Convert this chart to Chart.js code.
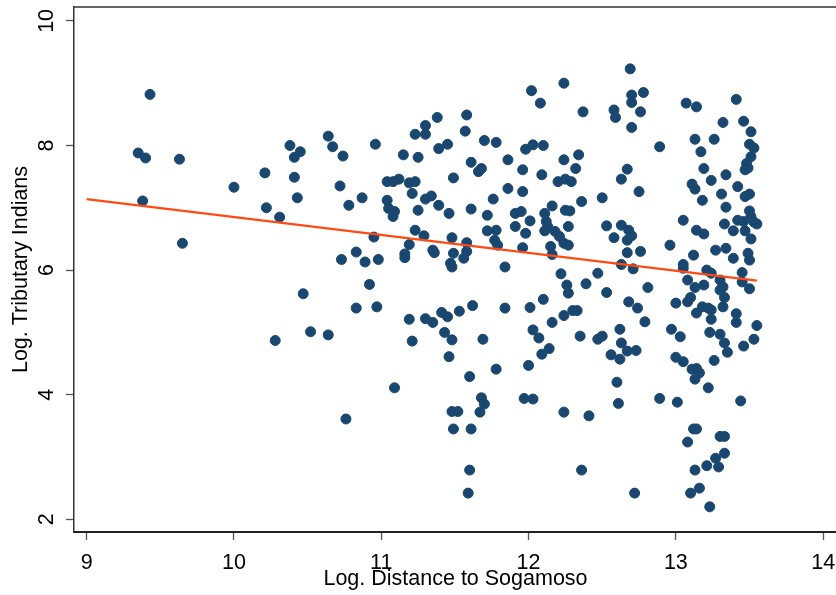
<!DOCTYPE html>
<html>
<head>
<meta charset="utf-8">
<script src="https://cdn.jsdelivr.net/npm/chart.js@4.4.0/dist/chart.umd.min.js"></script>
<style>
  html, body { margin: 0; padding: 0; background: #fff; overflow: hidden; }
  #wrap { width: 850px; height: 595px; }
</style>
</head>
<body>
<div id="wrap"><canvas id="scatter" width="850" height="595"></canvas></div>
<script>
// log distance to Sogamoso (x) and log tributary Indians (y), one entry per town
const logDistance = [
  9.35, 9.40, 9.43, 9.38, 9.63, 9.65, 10.00, 10.21, 10.22, 10.31,
  10.38, 10.41, 10.45, 10.41, 10.43, 10.47, 10.64, 10.67, 10.74, 10.72,
  10.78, 10.73, 10.83, 10.89, 10.92, 10.95, 10.87, 10.96, 10.98, 10.83,
  10.97, 10.28, 10.52, 10.64, 10.76, 11.04, 11.08, 11.12, 11.19, 11.23,
  11.21, 11.04, 11.05, 11.09, 11.08, 11.15, 11.23, 11.30, 11.25, 11.25,
  11.23, 11.19, 11.16, 11.16, 11.29, 11.30, 11.34, 11.39, 11.46, 11.38,
  11.30, 11.39, 11.45, 11.35, 11.36, 11.48, 11.49, 11.58, 11.58, 11.56,
  11.49, 11.47, 11.48, 11.58, 11.57, 11.70, 11.78, 11.98, 12.03, 12.10,
  11.61, 11.66, 11.68, 11.86, 11.96, 12.09, 11.86, 11.96, 11.61, 11.76,
  11.72, 11.91, 11.95, 12.01, 12.16, 12.11, 12.12, 12.13, 12.11, 12.18,
  12.21, 12.24, 11.91, 11.98, 11.72, 11.78, 11.77, 11.79, 11.96, 11.84,
  12.15, 12.16, 12.02, 12.08, 11.19, 11.30, 11.35, 11.41, 11.45, 11.53,
  11.62, 11.84, 12.01, 12.10, 12.16, 11.21, 11.43, 11.48, 11.69, 12.03,
  12.07, 12.14, 12.09, 11.46, 12.00, 11.78, 11.60, 11.09, 11.97, 12.03,
  11.68, 11.70, 11.67, 11.48, 11.52, 11.49, 11.61, 11.60, 11.59, 12.24,
  12.69, 12.70, 12.78, 12.70, 12.76, 12.37, 12.58, 12.59, 12.70, 12.89,
  12.24, 12.32, 12.34, 12.20, 12.25, 12.29, 12.25, 12.28, 12.27, 12.27,
  12.22, 12.26, 12.27, 12.39, 12.53, 12.47, 12.36, 12.50, 12.67, 12.63,
  12.75, 12.53, 12.63, 12.68, 12.70, 12.67, 12.58, 12.67, 12.76, 12.63,
  12.71, 12.68, 12.74, 12.81, 12.24, 12.30, 12.33, 12.79, 12.62, 12.35,
  12.47, 12.50, 12.63, 12.67, 12.73, 12.56, 12.62, 12.60, 12.61, 12.24,
  12.41, 12.36, 12.72, 12.89, 13.07, 13.14, 13.41, 13.32, 13.46, 13.51,
  13.50, 13.53, 13.51, 13.48, 13.47, 13.49, 13.13, 13.26, 13.17, 13.19,
  13.34, 13.24, 13.11, 13.13, 13.42, 13.31, 13.47, 13.50, 13.18, 13.34,
  13.50, 13.51, 13.53, 13.55, 13.42, 13.46, 13.33, 13.39, 13.47, 13.51,
  13.05, 13.14, 13.19, 12.96, 13.27, 13.34, 13.39, 13.49, 13.50, 13.12,
  13.05, 13.05, 13.21, 13.24, 13.45, 13.45, 13.50, 13.30, 13.32, 13.30,
  13.33, 13.32, 13.08, 13.13, 13.19, 13.10, 13.08, 13.00, 13.18, 13.22,
  13.24, 13.14, 13.24, 13.41, 13.41, 13.55, 13.23, 13.30, 13.33, 13.35,
  13.46, 13.53, 12.97, 13.03, 13.00, 13.05, 13.11, 13.14, 13.16, 13.13,
  13.22, 13.26, 13.01, 13.44, 13.12, 13.14, 13.08, 13.30, 13.33, 13.33,
  13.27, 13.29, 13.21, 13.13, 13.16, 13.10, 13.23
];
const logTributaries = [
  7.88, 7.80, 8.82, 7.11, 7.78, 6.43, 7.33, 7.56, 7.00, 6.85,
  8.00, 7.81, 7.90, 7.49, 7.16, 5.62, 8.15, 7.98, 7.83, 7.35,
  7.04, 6.17, 6.29, 6.13, 5.77, 6.53, 7.16, 8.02, 6.17, 5.39,
  5.41, 4.87, 5.01, 4.96, 3.61, 7.42, 7.42, 7.46, 7.40, 7.42,
  7.23, 7.12, 6.99, 6.94, 6.86, 7.85, 8.18, 8.18, 7.81, 6.96,
  6.64, 6.41, 6.26, 6.20, 6.55, 7.14, 7.19, 7.04, 6.91, 8.45,
  8.32, 7.95, 8.02, 6.32, 6.28, 6.52, 7.48, 6.44, 6.30, 6.19,
  6.27, 6.11, 6.05, 8.49, 8.23, 8.08, 8.05, 7.94, 8.01, 8.00,
  7.73, 7.58, 7.63, 7.77, 7.61, 7.53, 7.31, 7.26, 6.98, 7.14,
  6.88, 6.91, 6.94, 6.79, 7.03, 6.91, 6.78, 6.70, 6.63, 6.62,
  6.54, 6.43, 6.70, 6.59, 6.63, 6.64, 6.48, 6.40, 6.36, 6.05,
  6.38, 6.25, 8.88, 8.68, 5.21, 5.22, 5.16, 5.32, 5.25, 5.34,
  5.43, 5.39, 5.40, 5.53, 5.16, 4.86, 5.00, 4.88, 4.89, 5.04,
  4.91, 4.74, 4.65, 4.61, 4.47, 4.41, 4.29, 4.11, 3.94, 3.93,
  3.95, 3.85, 3.72, 3.73, 3.73, 3.45, 3.45, 2.79, 2.42, 9.00,
  9.23, 8.81, 8.85, 8.69, 8.54, 8.54, 8.57, 8.45, 8.29, 7.98,
  7.77, 7.63, 7.85, 7.42, 7.46, 7.42, 6.96, 6.95, 6.70, 6.40,
  5.94, 5.76, 5.63, 5.78, 5.64, 5.95, 7.10, 7.16, 7.62, 7.46,
  7.26, 6.71, 6.72, 6.64, 6.55, 6.48, 6.52, 6.28, 6.30, 6.09,
  6.02, 5.49, 5.39, 5.72, 5.27, 5.35, 5.35, 5.17, 5.05, 4.94,
  4.89, 4.94, 4.83, 4.70, 4.71, 4.64, 4.57, 4.20, 3.86, 3.72,
  3.66, 2.79, 2.42, 3.94, 8.68, 8.62, 8.74, 8.37, 8.39, 8.22,
  8.02, 7.96, 7.82, 7.71, 7.61, 7.64, 8.10, 8.10, 7.90, 7.63,
  7.53, 7.44, 7.38, 7.30, 7.34, 7.22, 7.18, 7.22, 7.12, 7.01,
  6.95, 6.86, 6.77, 6.74, 6.80, 6.78, 6.74, 6.63, 6.63, 6.50,
  6.80, 6.64, 6.58, 6.40, 6.32, 6.35, 6.19, 6.27, 6.16, 6.24,
  6.09, 6.03, 6.00, 5.95, 5.96, 5.81, 5.70, 5.84, 5.73, 5.68,
  5.56, 5.41, 5.84, 5.72, 5.76, 5.56, 5.49, 5.47, 5.41, 5.39,
  5.36, 5.31, 5.21, 5.30, 5.16, 5.11, 5.00, 4.97, 4.83, 4.68,
  4.78, 4.89, 5.05, 4.93, 4.60, 4.53, 4.41, 4.42, 4.35, 4.25,
  4.11, 4.55, 3.88, 3.90, 3.45, 3.45, 3.24, 3.33, 3.33, 3.06,
  2.98, 2.84, 2.86, 2.79, 2.50, 2.42, 2.20
];

// linear fit line (end points)
const fitX = [9.0, 13.55];
const fitY = [7.14, 5.83];

const xTicks = [9, 10, 11, 12, 13, 14];
const yTicks = [2, 4, 6, 8, 10];

const navy = '#1a476f';
const fitColor = '#ff4a14';
const font = { family: "'Liberation Sans', Arial, sans-serif", size: 21.5 };

// top / right edge of the plot box (Stata style frame)
const frame = {
  id: 'frame',
  beforeDatasetsDraw(chart) {
    const { ctx, chartArea: a } = chart;
    ctx.save();
    ctx.strokeStyle = '#333';
    ctx.lineWidth = 1.5;
    ctx.beginPath();
    ctx.moveTo(a.left, a.top);
    ctx.lineTo(a.right, a.top);
    ctx.lineTo(a.right, a.bottom);
    ctx.stroke();
    ctx.restore();
  }
};

new Chart(document.getElementById('scatter').getContext('2d'), {
  type: 'scatter',
  data: {
    datasets: [
      {
        type: 'line',
        label: 'Fitted values',
        data: fitX.map((x, i) => ({ x, y: fitY[i] })),
        borderColor: fitColor,
        borderWidth: 2.2,
        pointRadius: 0,
        fill: false,
        order: 0
      },
      {
        label: 'Log. Tributary Indians',
        data: logDistance.map((x, i) => ({ x, y: logTributaries[i] })),
        backgroundColor: navy,
        borderColor: navy,
        borderWidth: 1,
        pointRadius: 5,
        order: 1
      }
    ]
  },
  options: {
    responsive: false,
    animation: false,
    layout: { padding: { top: 7, right: 13, left: 0, bottom: 0 } },
    plugins: { legend: { display: false }, tooltip: { enabled: false } },
    scales: {
      x: {
        type: 'linear',
        min: 8.914,
        max: 14.094,
        afterBuildTicks: s => { s.ticks = xTicks.map(v => ({ value: v })); },
        afterFit: s => { s.height = 63; s.paddingLeft = 0; s.paddingRight = 0; },
        grid: { display: true, drawOnChartArea: false, drawTicks: true, tickLength: 8, tickWidth: 1.3, tickColor: '#555' },
        border: { display: true, color: '#222', width: 2 },
        ticks: { font, color: '#000', padding: 10, maxRotation: 0 },
        title: { display: true, text: 'Log. Distance to Sogamoso', font, color: '#000', padding: { top: 0, bottom: 3 } }
      },
      y: {
        type: 'linear',
        min: 1.796,
        max: 10.223,
        afterBuildTicks: s => { s.ticks = yTicks.map(v => ({ value: v })); },
        afterFit: s => { s.width = 74; s.paddingTop = 0; s.paddingBottom = 0; },
        grid: { display: true, drawOnChartArea: false, drawTicks: true, tickLength: 8, tickWidth: 1.3, tickColor: '#555' },
        border: { display: true, color: '#333', width: 1.5 },
        ticks: { font, color: '#000', padding: 7, minRotation: 90, maxRotation: 90, crossAlign: 'center' },
        title: { display: true, text: 'Log. Tributary Indians', font, color: '#000', padding: { top: 8, bottom: 0 } }
      }
    }
  },
  plugins: [frame]
});
</script>
</body>
</html>
